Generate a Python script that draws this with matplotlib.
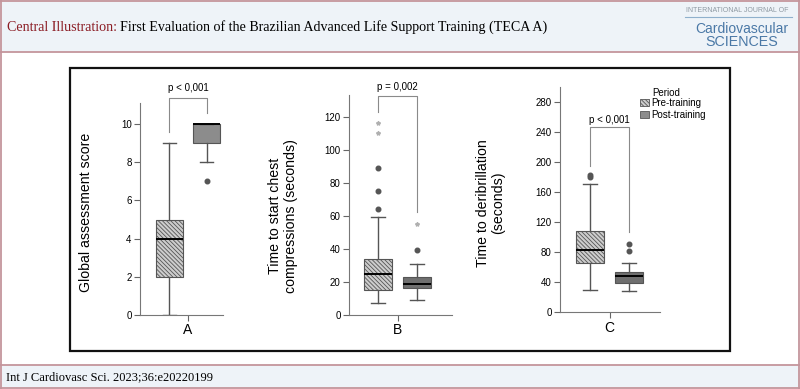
import matplotlib
matplotlib.use("Agg")
import matplotlib.pyplot as plt
from matplotlib.patches import Rectangle, Patch

plt.rcParams['font.family'] = ['Liberation Sans Narrow', 'Liberation Sans', 'DejaVu Sans']
plt.rcParams['hatch.linewidth'] = 0.6
plt.rcParams['hatch.color'] = '#555555'

# box statistics (pre-training, post-training)
panels = ['A', 'B', 'C']
ylabels = ['Global assessment score',
           'Time to start chest\ncompressions (seconds)',
           'Time to deribrillation\n(seconds)']
p_texts = ['p < 0,001', 'p = 0,002', 'p < 0,001']

whislo_pre = [0, 7, 30]
q1_pre = [2, 15, 65]
med_pre = [4, 25, 83]
q3_pre = [5, 34, 108]
whishi_pre = [9, 59, 170]
outliers_pre = [[], [64, 75, 89], [180, 182]]
extremes_pre = [[], [110, 116], []]

whislo_post = [8, 9, 28]
q1_post = [9, 16.5, 39]
med_post = [10, 19, 48]
q3_post = [10, 23, 53]
whishi_post = [10, 31, 66]
outliers_post = [[7], [39], [81, 91]]
extremes_post = [[], [55], []]

yticks = [range(0, 11, 2), range(0, 121, 20), range(0, 281, 40)]
legend_labels = ['Pre-training', 'Post-training']

# layout (pixels of the 800x389 canvas)
axes_px = [(140, 223, 103, 315), (349, 452, 95, 315), (560, 660, 86.7, 312.3)]
ylims = [(0, 11.1), (0, 133), (0, 300)]
xlims = [(-2.57, 1.87), (-2.49, 2.79), (-2.55, 2.6)]
label_xy = [(-0.566, 0.483), (-0.50, 0.45), (-0.55, 0.484)]
# bracket: left leg bottom, top, right leg bottom, text y
brackets = [(9.6, 11.35, 10.56, 11.9), (123, 132.5, 62, 138), (194, 246, 107, 256)]
post_colors = ['#8c8c8c', '#6f6f6f', '#6f6f6f']
pre_color = '#cdcdcd'
pre_hatch = '\\\\\\\\\\\\\\\\'

W, H = 800, 389
fig = plt.figure(figsize=(8, 3.89), dpi=100)

bg = fig.add_axes([0, 0, 1, 1], zorder=-5)
bg.set_xlim(0, W)
bg.set_ylim(H, 0)
bg.axis('off')
pink = '#c4959c'
bg.add_patch(Rectangle((0, 0), W, 52, facecolor='#eef3f8', edgecolor='none'))
bg.add_patch(Rectangle((0, 365), W, 24, facecolor='#eef3f8', edgecolor='none'))
for yy in [0.6, 52, 365, 388.4]:
    bg.plot([0, W], [yy, yy], color=pink, lw=1.3)
for xx in [0.6, 799.4]:
    bg.plot([xx, xx], [0, H], color=pink, lw=1.3)
bg.add_patch(Rectangle((70, 68), 660, 283, facecolor='white', edgecolor='#111111', lw=1.6))

# header title
serif = ['Liberation Serif', 'DejaVu Serif']
t1 = bg.text(7, 27, 'Central Illustration:', color='#8b1c24', fontsize=10.1,
             family=serif, va='center', ha='left')
fig.canvas.draw()
bb = t1.get_window_extent()
bg.text(bb.x1 + 3, 27, 'First Evaluation of the Brazilian Advanced Life Support Training (TECA A)',
        color='black', fontsize=10.1, family=serif, va='center', ha='left')

# journal logo
sans = ['Liberation Sans', 'DejaVu Sans']
bg.text(737, 10, 'INTERNATIONAL JOURNAL OF', color='#8f9aa3', fontsize=5,
        ha='center', va='center', family=sans)
bg.plot([685, 792], [17.3, 17.3], color='#8fb0cc', lw=0.8)
bg.text(742, 28.5, 'Cardiovascular', color='#4a78a6', fontsize=10,
        ha='center', va='center', family=sans)
bg.text(742, 42, 'SCIENCES', color='#4a78a6', fontsize=10.3,
        ha='center', va='center', family=sans)

# footer
bg.text(6, 377, 'Int J Cardiovasc Sci. 2023;36:e20220199', color='black', fontsize=9,
        family=serif, va='center', ha='left')

edge = '#555555'
for i in range(3):
    x0, x1, ytop, ybot = axes_px[i]
    ax = fig.add_axes([x0 / W, (H - ybot) / H, (x1 - x0) / W, (ybot - ytop) / H])
    ax.set_facecolor('none')
    stats = [
        dict(whislo=whislo_pre[i], q1=q1_pre[i], med=med_pre[i], q3=q3_pre[i],
             whishi=whishi_pre[i], fliers=outliers_pre[i]),
        dict(whislo=whislo_post[i], q1=q1_post[i], med=med_post[i], q3=q3_post[i],
             whishi=whishi_post[i], fliers=outliers_post[i]),
    ]
    bp = ax.bxp(stats, positions=[-1, 1], widths=1.44, capwidths=0.72, patch_artist=True,
                boxprops=dict(edgecolor=edge, lw=0.8),
                medianprops=dict(color='black', lw=1.4),
                whiskerprops=dict(color=edge, lw=1.0),
                capprops=dict(color=edge, lw=1.0),
                flierprops=dict(marker='o', markersize=3.3, markerfacecolor='#555555',
                                markeredgecolor='#555555'))
    bp['boxes'][0].set_facecolor(pre_color)
    bp['boxes'][0].set_hatch(pre_hatch)
    bp['boxes'][1].set_facecolor(post_colors[i])
    if extremes_pre[i]:
        ax.plot([-1] * len(extremes_pre[i]), extremes_pre[i], ls='none', marker='*',
                markersize=3, color='#b0b0b0', clip_on=False)
    if extremes_post[i]:
        ax.plot([1] * len(extremes_post[i]), extremes_post[i], ls='none', marker='*',
                markersize=3, color='#b0b0b0', clip_on=False)

    ax.set_xlim(*xlims[i])
    ax.set_ylim(*ylims[i])
    ax.set_yticks(list(yticks[i]))
    ax.set_xticks([0])
    ax.set_xticklabels([panels[i]], fontsize=10)
    ax.tick_params(axis='y', labelsize=7, length=4, width=0.8, color='#666666', pad=2)
    ax.tick_params(axis='x', length=4, width=0.8, color='#666666', pad=2)
    for s in ['top', 'right']:
        ax.spines[s].set_visible(False)
    for s in ['left', 'bottom']:
        ax.spines[s].set_color('#777777')
        ax.spines[s].set_linewidth(0.8)
    ax.set_ylabel(ylabels[i], fontsize=10.2, linespacing=1.1)
    ax.yaxis.set_label_coords(*label_xy[i])

    lb, top, rb, ty = brackets[i]
    ax.plot([-1, -1, 1, 1], [lb, top, top, rb], color='#8a8a8a', lw=0.8, clip_on=False)
    ax.text(0, ty, p_texts[i], ha='center', va='center', fontsize=7)

    if i == 2:
        handles = [Patch(facecolor=pre_color, edgecolor=edge, hatch=pre_hatch, lw=0.6),
                   Patch(facecolor='#8c8c8c', edgecolor=edge, lw=0.6)]
        ax.legend(handles, legend_labels,
                  loc='upper left', bbox_to_anchor=(639 / W, (H - 97) / H),
                  bbox_transform=fig.transFigure, frameon=False, fontsize=7,
                  handlelength=0.9, handleheight=0.8,
                  handletextpad=0.3, labelspacing=0.2, borderpad=0.1,
                  borderaxespad=0)
        fig.text(652 / W, (H - 92.5) / H, 'Period', fontsize=7, ha='left', va='center')

fig.savefig('out.png', dpi=100)
